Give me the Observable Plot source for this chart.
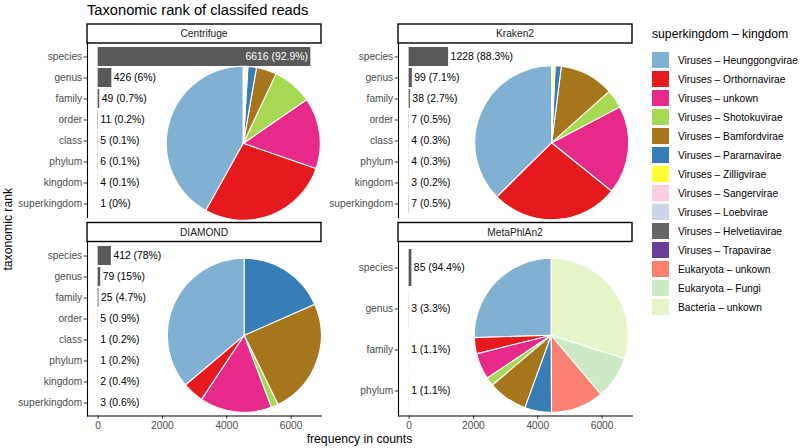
<!DOCTYPE html>
<html>
<head>
<meta charset="utf-8">
<script src="https://cdn.jsdelivr.net/npm/d3@7"></script>
<script src="https://cdn.jsdelivr.net/npm/@observablehq/plot@0.6"></script>
<style>
  html, body { margin: 0; padding: 0; background: #fff; }
  #fig { position: relative; width: 800px; height: 448px; overflow: hidden; background: #fff; }
  #fig > svg { position: absolute; left: 0; top: 0; }
</style>
</head>
<body>
<div id="fig"></div>
<script>
// ---------------- data ----------------
const tools = ["Centrifuge", "Kraken2", "DIAMOND", "MetaPhlAn2"];
const ranks = ["species", "genus", "family", "order", "class", "phylum", "kingdom", "superkingdom"];
const metaphlan2Ranks = ["species", "genus", "family", "phylum"];

const centrifugeCounts = [6616, 426, 49, 11, 5, 6, 4, 1];
const kraken2Counts = [1228, 99, 38, 7, 4, 4, 3, 7];
const diamondCounts = [412, 79, 25, 5, 1, 1, 2, 3];
const metaphlan2Counts = [85, 3, 1, 1];

const kingdoms = [
  "Viruses – Heunggongvirae", "Viruses – Orthornavirae", "Viruses – unkown",
  "Viruses – Shotokuvirae", "Viruses – Bamfordvirae", "Viruses – Pararnavirae",
  "Viruses – Zilligvirae", "Viruses – Sangervirae", "Viruses – Loebvirae",
  "Viruses – Helvetiavirae", "Viruses – Trapavirae", "Eukaryota – unkown",
  "Eukaryota – Fungi", "Bacteria – unkown"
];
const kingdomColors = [
  "#80B1D3", "#E41A1C", "#E7298A", "#A6D854", "#A6761D", "#377EB8", "#FFFF33",
  "#FCCDE5", "#CBD5E8", "#666666", "#6A3D9A", "#FB8072", "#CCEBC5", "#E6F5C9"
];

// pie shares (% of classified reads), in kingdom order
const centrifugeShares = [41.9, 27.8, 14.9, 8.4, 4.25, 1.8, 0.4, 0.3, 0.25, 0, 0, 0, 0, 0];
const kraken2Shares    = [37.4, 26.8, 18.5, 3.9, 11.4, 1.3, 0.5, 0.2, 0, 0, 0, 0, 0, 0];
const diamondShares    = [36.2, 4.5, 15.1, 1.5, 24.4, 18.4, 0, 0, 0, 0, 0, 0, 0, 0];
const metaphlan2Shares = [25.5, 3.4, 5.5, 1.8, 8.3, 5.6, 0, 0, 0, 0, 0, 11.1, 9.0, 29.9];

const xTicks = [0, 2000, 4000, 6000];

// ---------------- layout ----------------
const W = 800, H = 448;
const FONT = '"Liberation Sans", Arial, Helvetica, sans-serif';
const STRIP_H = 19;
const PIE_R = 77;
const panels = [
  {tool: tools[0], ranks: ranks, counts: centrifugeCounts, shares: centrifugeShares, left: 87, right: 321, top: 43, bottom: 217, pie: [243.3, 143.3], xAxis: false},
  {tool: tools[1], ranks: ranks, counts: kraken2Counts, shares: kraken2Shares, left: 398, right: 632, top: 43, bottom: 217, pie: [551.7, 142.7], xAxis: false},
  {tool: tools[2], ranks: ranks, counts: diamondCounts, shares: diamondShares, left: 87, right: 321, top: 241.5, bottom: 415.5, pie: [244.3, 335.3], xAxis: true},
  {tool: tools[3], ranks: metaphlan2Ranks, counts: metaphlan2Counts, shares: metaphlan2Shares, left: 398, right: 632, top: 241.5, bottom: 415.5, pie: [551.3, 335.3], xAxis: true}
];

const maxCount = d3.max(panels.flatMap(p => p.counts));
const xDomain = [-0.05 * maxCount, maxCount * 1.05];
const insideThreshold = maxCount / 2;

const fig = document.getElementById("fig");

function fmtPct(v) { return String(+(Math.round(v * 10) / 10)); }

function panelPlot(p) {
  const total = d3.sum(p.counts);
  const rows = p.ranks.map((r, i) => ({
    rank: r,
    count: p.counts[i],
    label: `${p.counts[i]} (${fmtPct(p.counts[i] / total * 100)}%)`
  }));
  const outside = rows.filter(d => d.count <= insideThreshold);
  const inside = rows.filter(d => d.count > insideThreshold);
  const slices = kingdoms.map((k, i) => ({kingdom: k, share: p.shares[i]})).filter(d => d.share > 0);
  const [cx, cy] = p.pie;

  const marks = [
    Plot.barX(rows, {x: "count", y: "rank", fill: "#595959"}),
    Plot.text(outside, {x: "count", y: "rank", text: "label", textAnchor: "start", dx: 2, fontSize: 10.4, fill: "#000"}),
    Plot.text(inside, {x: "count", y: "rank", text: "label", textAnchor: "end", dx: -3, fontSize: 10.4, fill: "#fff"}),
    Plot.rect(slices, {
      fill: "kingdom",
      render(index, scales, values) {
        const pie = d3.pie().sort(null).value(i => slices[i].share).startAngle(0).endAngle(-2 * Math.PI);
        const arc = d3.arc().innerRadius(0).outerRadius(PIE_R);
        const g = d3.create("svg:g").attr("transform", `translate(${cx},${cy})`);
        g.selectAll("path").data(pie(Array.from(index))).join("path")
          .attr("d", arc)
          .attr("fill", a => values.fill[a.data])
          .attr("stroke", "#fff")
          .attr("stroke-width", 1.1)
          .attr("stroke-linejoin", "round");
        return g.node();
      }
    }),
    Plot.axisY({tickSize: 3.3, tickPadding: 2, fontSize: 10.2, stroke: "#333", fill: "#4d4d4d", label: null}),
    Plot.frame({anchor: "left", stroke: "#000", strokeWidth: 1.1})
  ];
  if (p.xAxis) {
    marks.push(Plot.axisX({ticks: xTicks, tickSize: 3.3, tickPadding: 2, fontSize: 10.2, stroke: "#333", fill: "#4d4d4d", label: null, tickFormat: d => String(d)}));
    marks.push(Plot.frame({anchor: "bottom", stroke: "#000", strokeWidth: 1.1}));
  }

  return Plot.plot({
    width: W, height: H,
    marginLeft: p.left, marginRight: W - p.right, marginTop: p.top, marginBottom: H - p.bottom,
    style: {background: "transparent", fontFamily: FONT, overflow: "visible"},
    x: {domain: xDomain, axis: null},
    y: {domain: p.ranks, paddingInner: 0.1, paddingOuter: 0.15, axis: null},
    color: {domain: kingdoms, range: kingdomColors},
    marks
  });
}

panels.forEach(p => fig.appendChild(panelPlot(p)));

// legend (keys + labels) drawn through Plot's band and color scales
const legendTop = 45.1, legendStep = 19.85;
fig.appendChild(Plot.plot({
  width: W, height: H, margin: 0,
  style: {background: "transparent", fontFamily: FONT, overflow: "visible"},
  x: {domain: ["key"], range: [652, 669.3], padding: 0, axis: null},
  y: {domain: kingdoms, range: [legendTop, legendTop + legendStep * kingdoms.length], paddingInner: 0.1436, paddingOuter: 0.0718, axis: null},
  color: {domain: kingdoms, range: kingdomColors},
  marks: [
    Plot.cell(kingdoms, {x: () => "key", y: d => d, fill: d => d, inset: 0}),
    Plot.text(kingdoms, {x: () => "key", y: d => d, text: d => d, textAnchor: "start", dx: 17, fontSize: 10.2, fill: "#000"})
  ]
}));

// titles, strips
const svg = d3.create("svg").attr("width", W).attr("height", H)
  .style("font-family", FONT).style("overflow", "visible");
svg.append("text").attr("x", 87).attr("y", 14.6).attr("font-size", 14.7).attr("fill", "#000")
  .text("Taxonomic rank of classifed reads");
svg.append("text").attr("x", (87 + 632) / 2).attr("y", 442.5).attr("font-size", 12.2).attr("fill", "#000")
  .attr("text-anchor", "middle").text("frequency in counts");
svg.append("text").attr("transform", `translate(12.3,${(43 + 415.5) / 2}) rotate(-90)`).attr("font-size", 12.2)
  .attr("fill", "#000").attr("text-anchor", "middle").text("taxonomic rank");
svg.append("text").attr("x", 652).attr("y", 37.5).attr("font-size", 12.2).attr("fill", "#000")
  .text("superkingdom – kingdom");
panels.forEach(p => {
  svg.append("rect").attr("x", p.left).attr("y", p.top - STRIP_H).attr("width", p.right - p.left).attr("height", STRIP_H)
    .attr("fill", "#fff").attr("stroke", "#000").attr("stroke-width", 1.4);
  svg.append("text").attr("x", (p.left + p.right) / 2).attr("y", p.top - STRIP_H / 2).attr("dy", "0.35em")
    .attr("text-anchor", "middle").attr("font-size", 10.2).attr("fill", "#1a1a1a").text(p.tool);
});
fig.appendChild(svg.node());
</script>
</body>
</html>
